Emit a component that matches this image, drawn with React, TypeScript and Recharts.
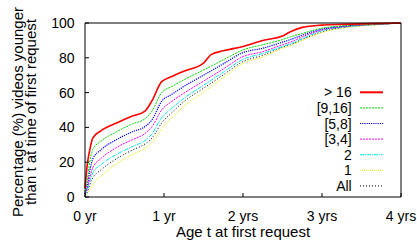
import React from "react";
import { LineChart, Line, XAxis, YAxis, Legend } from "recharts";

// age in years at first request
const ages = [0, 0.03, 0.06, 0.1, 0.2, 0.4, 0.6, 0.76, 0.85, 0.97, 1.1, 1.25, 1.5, 1.6, 1.75, 2.0, 2.25, 2.5, 2.6, 2.75, 3.0, 3.25, 3.5, 3.75, 4.0];

const over16 = [5, 19, 27, 34, 38, 42.5, 46.5, 49.4, 55.5, 66.3, 69.3, 72.3, 77, 82, 84, 86.5, 90, 92.5, 95, 97.5, 98.8, 99.2, 99.5, 99.8, 100];
const from9to16 = [3, 10, 20, 27.5, 32, 37.5, 42, 45, 49.5, 60, 63.5, 67.3, 73, 75.3, 78.8, 84.5, 87.5, 90.5, 92, 94, 97, 98.3, 99, 99.5, 100];
const from5to8 = [2, 7, 15, 22, 27, 33, 37.5, 40.5, 44.5, 55, 59, 63.5, 70, 72.6, 76.5, 83, 85.5, 89, 90.5, 93, 96.5, 98, 99, 99.5, 100];
const from3to4 = [2, 5, 11, 17, 22, 28.5, 33, 36.5, 40.5, 50, 55, 59.6, 66.6, 69.4, 73.6, 80.7, 83.5, 87.5, 89, 92, 96, 97.8, 98.8, 99.4, 100];
const two = [1, 4, 9, 14, 18.5, 24.5, 29, 32.5, 36.5, 45.5, 51, 56.7, 64.2, 67.2, 71.7, 79.1, 82.5, 86.5, 88, 91, 95.5, 97.5, 98.6, 99.3, 100];
const one = [0, 2, 4.5, 7.5, 12, 19, 24.5, 28, 31.5, 39, 45.5, 52, 60.3, 63.6, 68.5, 76.8, 80.5, 85.5, 87, 90, 94.5, 97, 98.3, 99.1, 100];
const all = [1, 3, 7, 11, 15.5, 22, 27, 30.5, 34, 42.5, 48.5, 54.8, 62.5, 65.5, 70.2, 77.8, 81.5, 86, 87.5, 90.5, 95, 97.3, 98.5, 99.2, 100];

const xTicks = [0, 1, 2, 3, 4];
const xTickLabels = ["0 yr", "1 yr", "2 yrs", "3 yrs", "4 yrs"];
const yTicks = [0, 20, 40, 60, 80, 100];

const series = [
  { key: "over16", name: "> 16", color: "#ff0000", dash: undefined, width: 1.6 },
  { key: "from9to16", name: "[9,16]", color: "#00dd00", dash: "2 1", width: 1 },
  { key: "from5to8", name: "[5,8]", color: "#0000ff", dash: "1.2 1", width: 1.2 },
  { key: "from3to4", name: "[3,4]", color: "#ff00ff", dash: "2 1", width: 1 },
  { key: "two", name: "2", color: "#00e8e8", dash: "4 1 1 1", width: 1 },
  { key: "one", name: "1", color: "#eeee00", dash: "1 1", width: 1 },
  { key: "all", name: "All", color: "#000000", dash: "1 2", width: 1 },
];

const data = ages.map((age, i) => ({
  age,
  over16: over16[i],
  from9to16: from9to16[i],
  from5to8: from5to8[i],
  from3to4: from3to4[i],
  two: two[i],
  one: one[i],
  all: all[i],
}));

const font = "'Liberation Sans', Arial, Helvetica, sans-serif";

function KeyBox() {
  const rowH = 15.6;
  return (
    <svg width={160} height={115} style={{ fontFamily: font }}>
      {series.map((s, i) => {
        const cy = 10.3 + i * rowH;
        return (
          <g key={s.key}>
            <text x={111.7} y={cy + 5} textAnchor="end" fontSize={14} fill="#000">
              {s.name}
            </text>
            <line x1={120} x2={143} y1={cy} y2={cy} stroke={s.color} strokeWidth={s.key === "over16" ? 2 : s.width} strokeDasharray={s.dash} />
          </g>
        );
      })}
    </svg>
  );
}

function YTitle(props: any) {
  const vb = props.viewBox || { x: 25, y: 23, height: 174 };
  const cy = vb.y + vb.height / 2 + 2;
  const x1 = vb.x - 2.5;
  const x2 = vb.x + 11;
  return (
    <g fontFamily={font} fontSize={15} fill="#000">
      <text x={x1} y={cy} textAnchor="middle" transform={`rotate(-90 ${x1} ${cy})`}>
        Percentage (%) videos younger
      </text>
      <text x={x2} y={cy} textAnchor="middle" transform={`rotate(-90 ${x2} ${cy})`}>
        than t at time of first request
      </text>
    </g>
  );
}

export default function App() {
  const tickStyle = { fontSize: 14, fill: "#000", fontFamily: font };
  return (
    <div style={{ position: "absolute", left: 0, top: 0, width: 417, height: 251, background: "#fff", fontFamily: font }}>
      <LineChart width={417} height={251} data={data} margin={{ top: 18, right: 10, bottom: 24, left: 25 }}>
        <XAxis
          xAxisId="bottom"
          dataKey="age"
          type="number"
          domain={[0, 4]}
          ticks={xTicks}
          tickFormatter={(v: number) => xTickLabels[xTicks.indexOf(v)]}
          height={30}
          axisLine={{ stroke: "#000" }}
          tickLine={{ stroke: "#000" }}
          tickSize={-4}
          tickMargin={18}
          tick={tickStyle}
          interval={0}
          label={{ value: "Age t at first request", position: "insideBottom", offset: -10, style: { fontSize: 15, fill: "#000", fontFamily: font } }}
        />
        <XAxis
          xAxisId="top"
          orientation="top"
          type="number"
          domain={[0, 4]}
          allowDataOverflow
          ticks={xTicks}
          height={5}
          axisLine={{ stroke: "#000" }}
          tickLine={{ stroke: "#000" }}
          tickSize={-4}
          tick={false}
        />
        <YAxis
          yAxisId="left"
          type="number"
          domain={[0, 100]}
          ticks={yTicks}
          width={60}
          axisLine={{ stroke: "#000" }}
          tickLine={{ stroke: "#000" }}
          tickSize={-4}
          tickMargin={14.5}
          tick={tickStyle}
          interval={0}
          label={<YTitle />}
        />
        <YAxis
          yAxisId="right"
          orientation="right"
          type="number"
          domain={[0, 100]}
          allowDataOverflow
          ticks={yTicks}
          width={6}
          axisLine={{ stroke: "#000" }}
          tickLine={{ stroke: "#000" }}
          tickSize={-4}
          tick={false}
        />
        <Legend
          layout="vertical"
          align="center"
          verticalAlign="middle"
          content={() => <KeyBox />}
          wrapperStyle={{ left: 240, top: 82, width: 160, height: 115 }}
        />
        {series
          .slice()
          .reverse()
          .map((s) => (
            <Line
              key={s.key}
              xAxisId="bottom"
              yAxisId="left"
              type="monotone"
              dataKey={s.key}
              name={s.name}
              stroke={s.color}
              strokeWidth={s.width}
              strokeDasharray={s.dash}
              dot={false}
              isAnimationActive={false}
            />
          ))}
      </LineChart>
    </div>
  );
}
